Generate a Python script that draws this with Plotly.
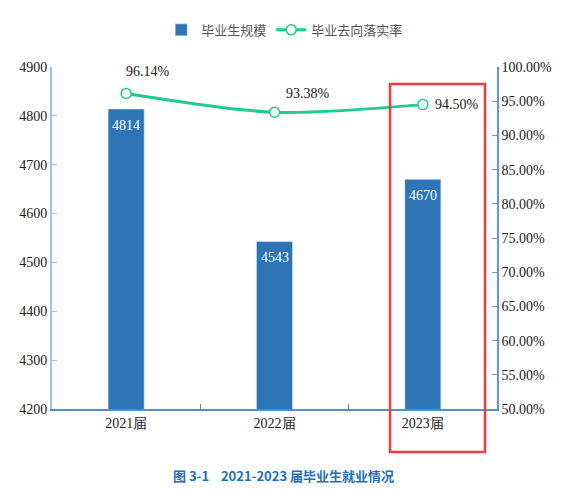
import plotly.graph_objects as go

categories = ["2021届", "2022届", "2023届"]
grads = [4814, 4543, 4670]
rates = [96.14, 93.38, 94.50]

SERIF = "Liberation Serif, Times New Roman, serif"
BLUE = "#2E75B6"
GREEN = "#1FCB8F"

fig = go.Figure()
fig.add_trace(go.Bar(
    x=categories, y=grads, name="毕业生规模",
    marker=dict(color=BLUE), width=0.243,
))
fig.add_trace(go.Scatter(
    x=categories, y=rates, name="毕业去向落实率", yaxis="y2",
    mode="lines+markers",
    line=dict(color=GREEN, width=3, shape="spline", smoothing=0.8),
    marker=dict(size=10, color="white", line=dict(color=GREEN, width=1.5)),
))

for c, g in zip(categories, grads):
    fig.add_annotation(x=c, y=g, text=str(g), showarrow=False, yshift=-16,
                       font=dict(family=SERIF, size=14, color="white"))

shifts = [(22, 22), (33, 19), (34, 0)]
for c, r, (dx, dy) in zip(categories, rates, shifts):
    fig.add_annotation(x=c, y=r, yref="y2", text=f"{r:.2f}%", showarrow=False,
                       xshift=dx, yshift=dy,
                       font=dict(family=SERIF, size=14, color="#222"))

fig.add_shape(type="rect", xref="paper", yref="paper",
              x0=0.7596, x1=0.973, y0=-0.126, y1=0.950,
              line=dict(color="#EE3B3B", width=2.5), fillcolor="rgba(0,0,0,0)")

fig.add_annotation(xref="paper", yref="paper", x=0.52, y=-0.193, yanchor="middle",
                   text="<b>图 3-1    2021-2023 届毕业生就业情况</b>", showarrow=False,
                   font=dict(family="Noto Sans CJK SC", size=13, color="#1F6EB8"))

fig.update_layout(
    width=566, height=490,
    margin=dict(l=52, r=69, t=67, b=81, autoexpand=False),
    plot_bgcolor="white", paper_bgcolor="white",
    bargap=0.757,
    showlegend=True,
    legend=dict(orientation="h", x=0.503, xanchor="center", xref="container",
                y=0.939, yanchor="middle", yref="container",
                font=dict(family="Noto Sans CJK SC", size=13, color="#555"),
                itemwidth=30),
    xaxis=dict(showline=True, linecolor="#4F8FD0", linewidth=1.5,
               ticks="inside", tickcolor="#4F8FD0", ticklen=5,
               tickson="boundaries", automargin=False,
               tickfont=dict(family=SERIF, size=14, color="#222"),
               showgrid=False),
    yaxis=dict(range=[4200, 4900], dtick=100, showline=True, linecolor="#9DC3E6",
               linewidth=2, ticks="inside", tickcolor="#9DC3E6", ticklen=5,
               automargin=False,
               tickfont=dict(family=SERIF, size=14, color="#222"),
               showgrid=False, zeroline=False),
    yaxis2=dict(range=[50, 100], dtick=5, overlaying="y", side="right",
                showline=True, linecolor="#5B9BD5", linewidth=1.5,
                ticks="inside", tickcolor="#5B9BD5", ticklen=5,
                ticksuffix="%", tickformat=".2f", automargin=False,
                tickfont=dict(family=SERIF, size=14, color="#222"),
                showgrid=False, zeroline=False),
)

fig.write_html("out.html", config={"displayModeBar": False},
               post_script="document.body.style.margin='0';document.body.style.overflow='hidden';")
